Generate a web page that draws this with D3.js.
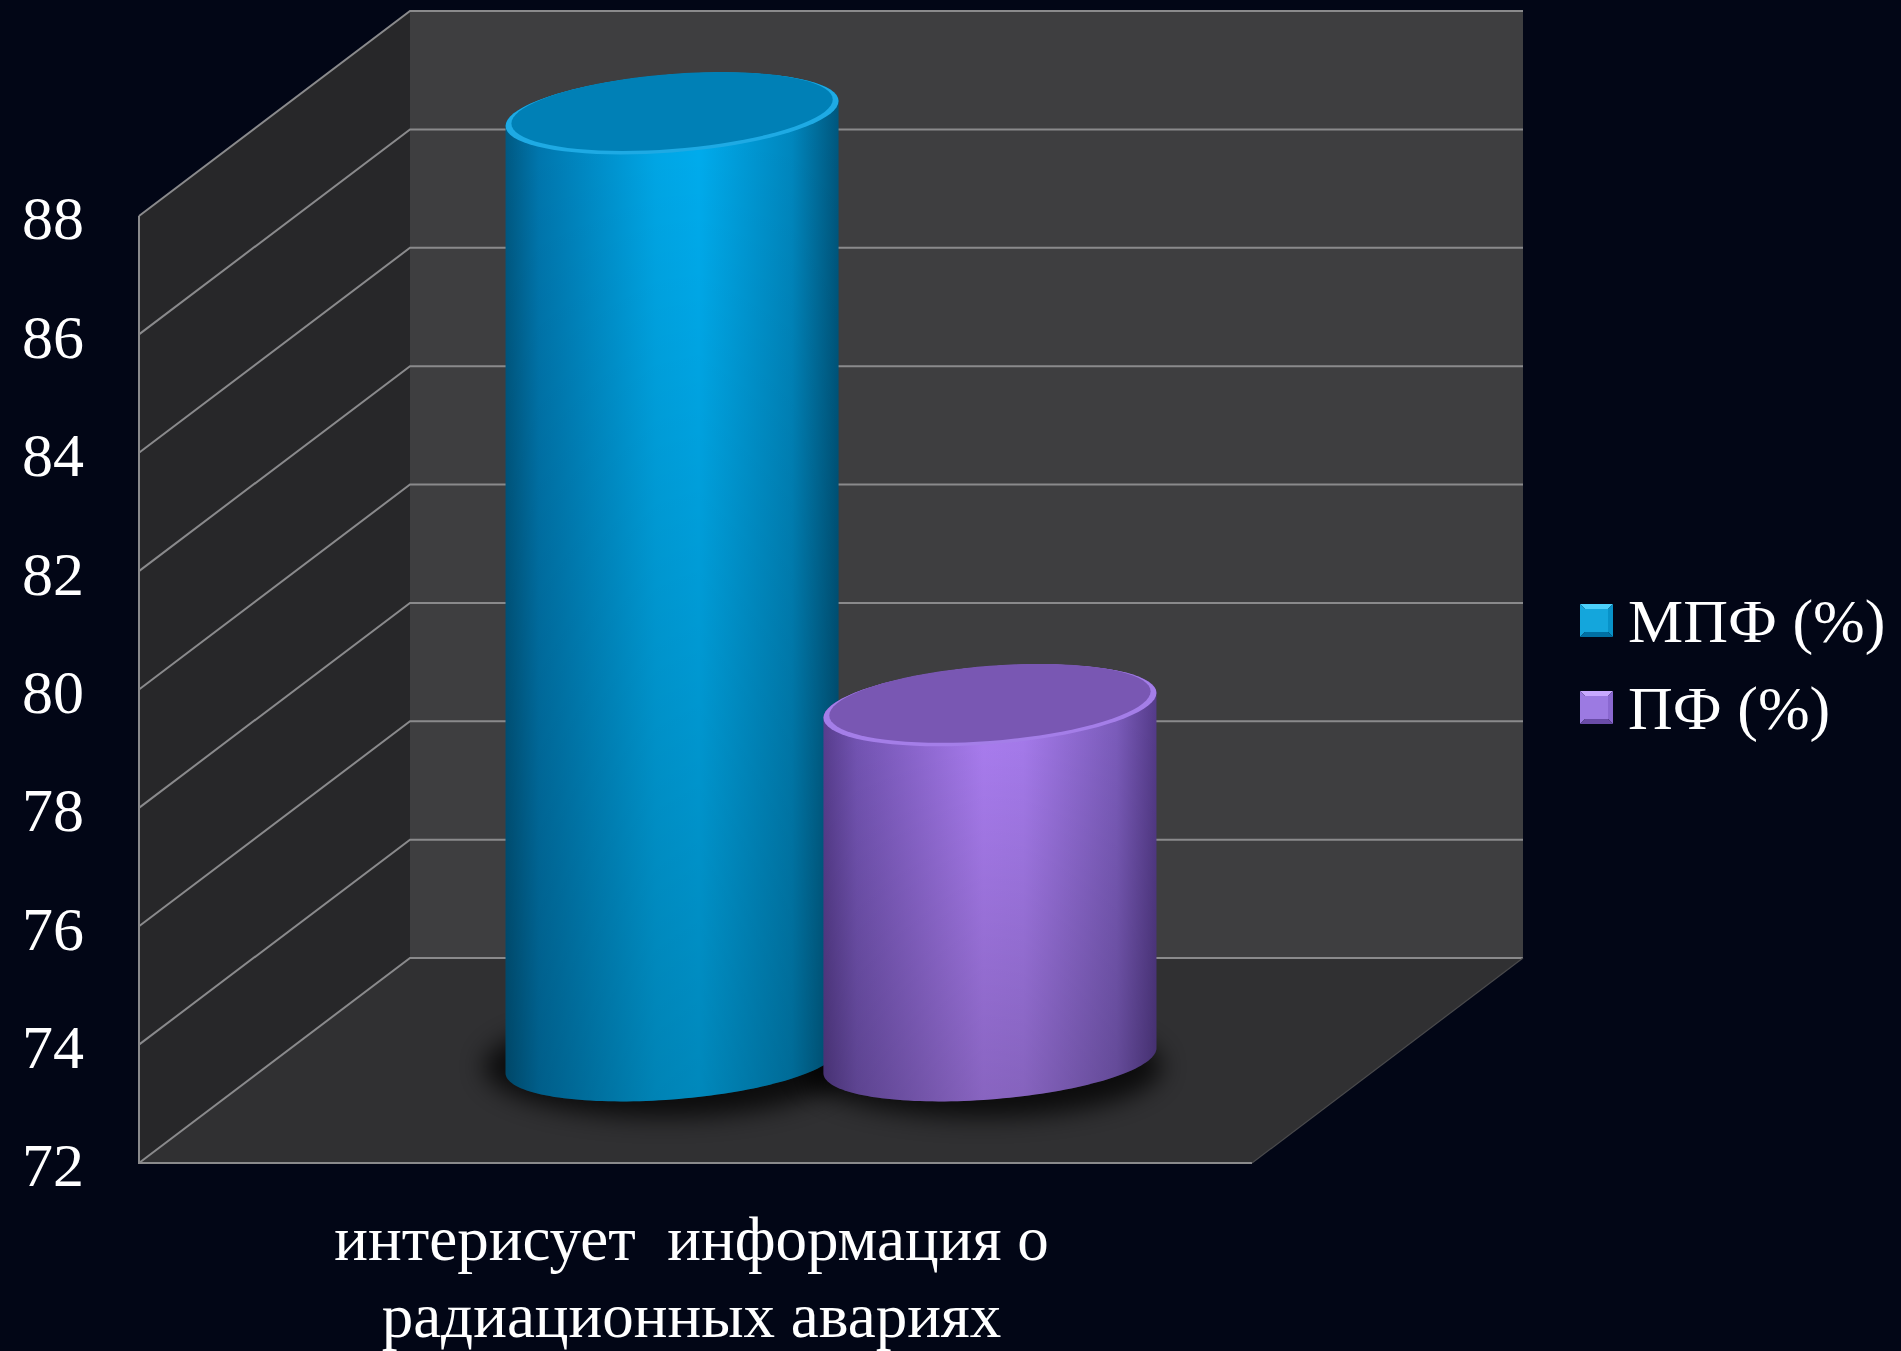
<!DOCTYPE html>
<html>
<head>
<meta charset="utf-8">
<script src="https://cdn.jsdelivr.net/npm/d3@7"></script>
<style>
  html, body { margin: 0; padding: 0; background: #020616; }
  svg { display: block; }
  text { font-family: "Liberation Serif", "Times New Roman", serif; fill: #ffffff; }
</style>
</head>
<body>
<svg id="chart" width="1901" height="1351"></svg>
<script>
// ---- data ----
const categories = ["интерисует  информация о\nрадиационных авариях"];
const seriesNames = ["МПФ (%)", "ПФ (%)"];
const seriesValues = [88, 78];
const yTicks = [72, 74, 76, 78, 80, 82, 84, 86, 88];

// ---- layout ----
const W = 1901, H = 1351;
const frontLeft = 139, frontRight = 1252, frontBottom = 1163, frontTop = 216;
const depthDX = 271, depthDY = -205;   // offset from front plane to back wall

const svg = d3.select("#chart");
const defs = svg.append("defs");

const y = d3.scaleLinear().domain([72, 88]).range([frontBottom, frontTop]);
const x0 = d3.scaleBand().domain(categories).range([frontLeft, frontRight]).padding(0.262);

// projection: front-plane point (x, yv) at depth d (0 front .. 1 back)
const P = (xf, yv, d) => [xf + d * depthDX, y(yv) + d * depthDY];

svg.append("rect").attr("width", W).attr("height", H).attr("fill", "#020616");

const poly = pts => "M" + pts.map(p => p.join(",")).join("L") + "Z";
const yMin = 72, yMax = 88;

// side wall
svg.append("path").attr("d", poly([P(frontLeft, yMin, 0), P(frontLeft, yMax, 0), P(frontLeft, yMax, 1), P(frontLeft, yMin, 1)]))
  .attr("fill", "#272729");
// back wall
svg.append("path").attr("d", poly([P(frontLeft, yMin, 1), P(frontLeft, yMax, 1), P(frontRight, yMax, 1), P(frontRight, yMin, 1)]))
  .attr("fill", "#3e3e40");
// floor
svg.append("path").attr("d", poly([P(frontLeft, yMin, 0), P(frontRight, yMin, 0), P(frontRight, yMin, 1), P(frontLeft, yMin, 1)]))
  .attr("fill", "#303032");

// gridlines
const grid = svg.append("g").attr("stroke", "#8a8a8c").attr("stroke-width", 2).attr("fill", "none");
yTicks.forEach(t => {
  grid.append("path").attr("d", "M" + P(frontLeft, t, 0) + "L" + P(frontLeft, t, 1) + "L" + P(frontRight, t, 1));
});
grid.append("path").attr("d", "M" + P(frontLeft, yMax, 0) + "L" + P(frontLeft, yMin, 0) + "L" + P(frontRight, yMin, 0));
svg.append("path").attr("d", "M" + P(frontRight, yMin, 0) + "L" + P(frontRight, yMin, 1))
  .attr("stroke", "#4a4a4c").attr("stroke-width", 1.2).attr("fill", "none");

// ---- gradients ----
const palettes = [
  { body: [["0%", "#005a84"], ["10%", "#0078b0"], ["45%", "#00a8e8"], ["58%", "#00aef0"], ["86%", "#0088c0"], ["100%", "#00577e"]],
    top: "#0080b6", rim: "#1eaae4", legend: ["#4cd0fa", "#14a6dc", "#0892c8", "#0070a4"] },
  { body: [["0%", "#5a3f92"], ["10%", "#7656b8"], ["48%", "#ae80f6"], ["60%", "#aa7ef2"], ["88%", "#7e5ec0"], ["100%", "#563c8c"]],
    top: "#7957b3", rim: "#a47ee8", legend: ["#c8a8ff", "#9c7ae2", "#8a68d0", "#6a4ca8"] }
];
palettes.forEach((p, i) => {
  const g = defs.append("linearGradient").attr("id", "body" + i).attr("x1", 0).attr("x2", 1).attr("y1", 0).attr("y2", 0);
  p.body.forEach(s => g.append("stop").attr("offset", s[0]).attr("stop-color", s[1]));
});
const shade = defs.append("linearGradient").attr("id", "vshade").attr("x1", 0).attr("x2", 0).attr("y1", 0).attr("y2", 1);
shade.append("stop").attr("offset", "0%").attr("stop-color", "#000").attr("stop-opacity", 0);
shade.append("stop").attr("offset", "100%").attr("stop-color", "#000").attr("stop-opacity", 0.22);

const blur = defs.append("filter").attr("id", "blur").attr("x", "-50%").attr("y", "-50%").attr("width", "200%").attr("height", "200%");
blur.append("feGaussianBlur").attr("stdDeviation", 12);

// ---- cylinders ----
const groupW = x0.bandwidth();
const r = groupW * 0.2558;
const xc = d3.scalePoint().domain(seriesNames).range([x0(categories[0]) + r, x0(categories[0]) + groupW - r]);
const a = r * 0.075, ry = r * 0.234;
const line = d3.line();
const N = 80;
const ellipsePts = (cx, cy, t0, t1, k = 1) => d3.range(N + 1).map(j => {
  const t = t0 + (t1 - t0) * j / N;
  return [cx + k * r * Math.cos(t), cy - k * a * Math.cos(t) + k * ry * Math.sin(t)];
});

const bars = svg.append("g");
// shadows
seriesNames.forEach((s, i) => {
  const [cx, cyB] = P(xc(s), yMin, 0.5);
  bars.append("ellipse").attr("cx", cx - 8).attr("cy", cyB + 6).attr("rx", r + 14).attr("ry", ry + 12)
    .attr("fill", "#000").attr("opacity", 0.75).attr("filter", "url(#blur)");
});
seriesNames.forEach((s, i) => {
  const [cx, cyT] = P(xc(s), seriesValues[i], 0.5);
  const cyB = P(xc(s), yMin, 0.5)[1];
  const bodyPts = [[cx - r, cyT + a]].concat(ellipsePts(cx, cyB, Math.PI, 0), ellipsePts(cx, cyT, 0, -Math.PI));
  const g = bars.append("g");
  g.append("path").attr("d", line(bodyPts) + "Z").attr("fill", `url(#body${i})`);
  g.append("path").attr("d", line(bodyPts) + "Z").attr("fill", "url(#vshade)");
  g.append("path").attr("d", line(ellipsePts(cx, cyT, 0, 2 * Math.PI)) + "Z")
    .attr("fill", palettes[i].rim);
  g.append("path").attr("d", line(ellipsePts(cx, cyT - 2, 0, 2 * Math.PI, 0.965)) + "Z")
    .attr("fill", palettes[i].top);
});

// ---- y axis ----
const axis = svg.append("g").attr("transform", `translate(${frontLeft},0)`)
  .call(d3.axisLeft(y).tickValues(yTicks).tickSize(0).tickPadding(55).tickFormat(d3.format("d")));
axis.select(".domain").remove();
axis.selectAll("text").attr("font-size", 62).attr("fill", "#fff").attr("dy", "0.37em")
  .style("font-family", '"Liberation Serif", "Times New Roman", serif');

// ---- category label ----
const cat = svg.append("text").attr("text-anchor", "middle").attr("font-size", 63);
categories[0].split("\n").forEach((ln, k) => {
  cat.append("tspan").attr("x", x0(categories[0]) + groupW / 2 - 4).attr("y", 1260 + k * 77)
    .style("white-space", "pre").attr("xml:space", "preserve").text(ln);
});

// ---- legend ----
const lg = svg.append("g").attr("transform", "translate(1580,604)");
seriesNames.forEach((s, i) => {
  const g = lg.append("g").attr("transform", `translate(0,${i * 87})`);
  const c = palettes[i].legend, S = 33, m = 5;
  g.append("path").attr("d", poly([[0, 0], [S, 0], [S / 2, S / 2]])).attr("fill", c[0]);
  g.append("path").attr("d", poly([[0, 0], [S / 2, S / 2], [0, S]])).attr("fill", c[1]);
  g.append("path").attr("d", poly([[S, 0], [S, S], [S / 2, S / 2]])).attr("fill", c[2]);
  g.append("path").attr("d", poly([[0, S], [S / 2, S / 2], [S, S]])).attr("fill", c[3]);
  g.append("rect").attr("x", m).attr("y", m).attr("width", S - 2 * m).attr("height", S - 2 * m).attr("fill", c[1]);
  g.append("text").attr("x", 48).attr("y", 38).attr("font-size", 62).text(s);
});
</script>
</body>
</html>
